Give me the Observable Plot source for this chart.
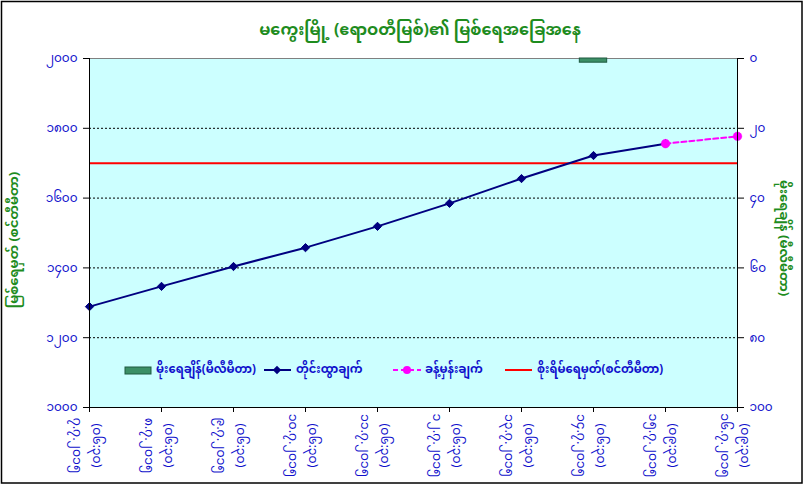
<!DOCTYPE html>
<html><head><meta charset="utf-8">
<script src="https://cdn.jsdelivr.net/npm/d3@7"></script>
<script src="https://cdn.jsdelivr.net/npm/@observablehq/plot@0.6"></script>
<style>
body{margin:0;background:#fff;}
#chart{position:relative;width:807px;height:486px;}
svg text{font-family:"Noto Sans Myanmar","Padauk","Myanmar Text","Myanmar3","Noto Sans",sans-serif;}
</style></head><body><div id="chart"></div>
<script>
const title = "မကွေးမြို့ (ဧရာဝတီမြစ်)၏ မြစ်ရေအခြေအနေ";
const leftTitle = "မြစ်ရေမှတ် (စင်တီမီတာ)";
const rightTitle = "မိုးရေချိန် (မီလီမီတာ)";
const dates = ["၇.၇.၂၀၁၅","၈.၇.၂၀၁၅","၉.၇.၂၀၁၅","၁၀.၇.၂၀၁၅","၁၁.၇.၂၀၁၅","၁၂.၇.၂၀၁၅","၁၃.၇.၂၀၁၅","၁၄.၇.၂၀၁၅","၁၅.၇.၂၀၁၅","၁၆.၇.၂၀၁၅"];
const times = ["(၀၆:၃၀)","(၀၆:၃၀)","(၀၆:၃၀)","(၀၆:၃၀)","(၀၆:၃၀)","(၀၆:၃၀)","(၀၆:၃၀)","(၀၆:၃၀)","(၀၉:၃၀)","(၀၉:၃၀)"];
const measured = [1289,1347,1404,1458,1519,1585,1656,1722,1756,null];
const forecast = [null,null,null,null,null,null,null,null,1756,1777];
const rainfall = [0,0,0,0,0,0,0,1.2,0,0];
const dangerLevel = [1700];
const leftTicks = [1000,1200,1400,1600,1800,2000];
const rightTicks = [0,20,40,60,80,100];
const legendLabels = ["မိုးရေချိန်(မီလီမီတာ)","တိုင်းထွာချက်","ခန့်မှန်းချက်","စိုးရိမ်ရေမှတ်(စင်တီမီတာ)"];

const my = n => String(n).replace(/\d/g, c => "၀၁၂၃၄၅၆၇၈၉"[+c]);
const yTop = d3.max(leftTicks), yBot = d3.min(leftTicks);
const rMax = d3.max(rightTicks);
const rainToY = r => yTop - r * (yTop - yBot) / rMax;

const data = dates.map((d, i) => ({i, date: d, time: times[i], measured: measured[i], forecast: forecast[i], rain: rainfall[i]}));
const idx = data.map(d => d.i);
const blue = "#1010CC", green = "#1E8C1E";

const squareDiamond = {
  draw(ctx, size) {
    const r = Math.sqrt(size / 2);
    ctx.moveTo(0, -r); ctx.lineTo(r, 0); ctx.lineTo(0, r); ctx.lineTo(-r, 0); ctx.closePath();
  }
};

const plot = Plot.plot({
  width: 807, height: 486,
  marginLeft: 89, marginRight: 70, marginTop: 58, marginBottom: 79,
  style: {background: "transparent", overflow: "visible"},
  x: {type: "linear", domain: [0, dates.length - 1], axis: null, label: null},
  y: {domain: [yBot, yTop], axis: null, label: null},
  marks: [
    Plot.frame({fill: "#CCFFFF", stroke: null}),
    Plot.ruleY(leftTicks.filter(v => v > yBot && v < yTop), {stroke: "#000", strokeDasharray: "2,2", strokeWidth: 1}),
    Plot.ruleY([yTop], {stroke: "#808080", strokeWidth: 1}),
    Plot.rect(data.filter(d => d.rain > 0), {x1: d => d.i - 0.19, x2: d => d.i + 0.19, y1: yTop, y2: d => rainToY(d.rain), fill: "#3C8F66", stroke: "#1E5A40", strokeWidth: 1}),
    Plot.ruleY(dangerLevel, {stroke: "#FF0000", strokeWidth: 2}),
    Plot.line(data.filter(d => d.measured != null), {x: "i", y: "measured", stroke: "#000080", strokeWidth: 2}),
    Plot.dot(data.filter(d => d.measured != null), {x: "i", y: "measured", symbol: squareDiamond, r: 3.3, fill: "#000080", stroke: "#000080", strokeWidth: 1}),
    Plot.line(data.filter(d => d.forecast != null), {x: "i", y: "forecast", stroke: "#FF00FF", strokeWidth: 2, strokeDasharray: "5,3"}),
    Plot.dot(data.filter(d => d.forecast != null), {x: "i", y: "forecast", r: 4.3, fill: "#FF00FF", stroke: "#FF00FF", strokeWidth: 0.5}),
    Plot.ruleX([0], {y1: yBot, y2: yTop, stroke: "#000", strokeWidth: 1}),
    Plot.ruleX([dates.length - 1], {y1: yBot, y2: yTop, stroke: "#000", strokeWidth: 1}),
    Plot.ruleY([yBot], {stroke: "#000", strokeWidth: 1}),
    Plot.axisY({anchor: "left", label: null, ticks: leftTicks, tickFormat: my, tickSize: 6, tickPadding: 6, stroke: "#000", fill: blue, fontSize: 12}),
    Plot.axisY({anchor: "right", label: null, ticks: rightTicks.map(rainToY), tickFormat: v => my(Math.round((yTop - v) * rMax / (yTop - yBot))), tickSize: 6, tickPadding: 6, stroke: "#000", fill: blue, fontSize: 12}),
    Plot.axisX({anchor: "bottom", label: null, ticks: idx, tickFormat: () => "", tickSize: 5, stroke: "#000"}),
    Plot.text(data, {x: "i", frameAnchor: "bottom", dy: 38, text: d => d.time + "\n" + d.date, rotate: 90, textAnchor: "middle", lineAnchor: "middle", lineHeight: 1.6, fill: blue, fontSize: 12.5})
  ]
});

const svg = d3.select(plot);
svg.insert("rect", ":first-child").attr("x", 1.5).attr("y", 1.5).attr("width", 800.5).attr("height", 481.5).attr("fill", "#fff").attr("stroke", "#000").attr("stroke-width", 1.5);
svg.append("text").attr("x", 420).attr("y", 35).attr("text-anchor", "middle").attr("fill", green).attr("font-weight", "bold").attr("font-size", 16).text(title);
svg.append("text").attr("transform", "translate(15,240) rotate(-90)").attr("text-anchor", "middle").attr("dominant-baseline", "middle").attr("fill", green).attr("font-weight", "bold").attr("font-size", 13).text(leftTitle);
svg.append("text").attr("transform", "translate(783,238) rotate(90)").attr("text-anchor", "middle").attr("dominant-baseline", "middle").attr("fill", green).attr("font-weight", "bold").attr("font-size", 13).text(rightTitle);

const lg = svg.append("g").attr("font-size", 11.5).attr("fill", blue).attr("font-weight", "bold").attr("text-anchor", "start");
const ly = 370;
lg.append("rect").attr("x", 125).attr("y", ly - 3).attr("width", 26).attr("height", 7).attr("fill", "#3C8F66").attr("stroke", "#1E5A40");
lg.append("text").attr("x", 156).attr("y", ly).attr("dominant-baseline", "middle").text(legendLabels[0]);
lg.append("line").attr("x1", 264).attr("x2", 291).attr("y1", ly).attr("y2", ly).attr("stroke", "#000080").attr("stroke-width", 2);
lg.append("path").attr("d", d3.symbol(squareDiamond, 36)()).attr("transform", `translate(277,${ly})`).attr("fill", "#000080");
lg.append("text").attr("x", 296).attr("y", ly).attr("dominant-baseline", "middle").text(legendLabels[1]);
lg.append("line").attr("x1", 393).attr("x2", 421).attr("y1", ly).attr("y2", ly).attr("stroke", "#FF00FF").attr("stroke-width", 2).attr("stroke-dasharray", "5,3");
lg.append("circle").attr("cx", 407).attr("cy", ly).attr("r", 4).attr("fill", "#FF00FF");
lg.append("text").attr("x", 425).attr("y", ly).attr("dominant-baseline", "middle").text(legendLabels[2]);
lg.append("line").attr("x1", 505).attr("x2", 532).attr("y1", ly).attr("y2", ly).attr("stroke", "#FF0000").attr("stroke-width", 2);
lg.append("text").attr("x", 537).attr("y", ly).attr("dominant-baseline", "middle").text(legendLabels[3]);

document.getElementById("chart").appendChild(plot);
</script></body></html>
